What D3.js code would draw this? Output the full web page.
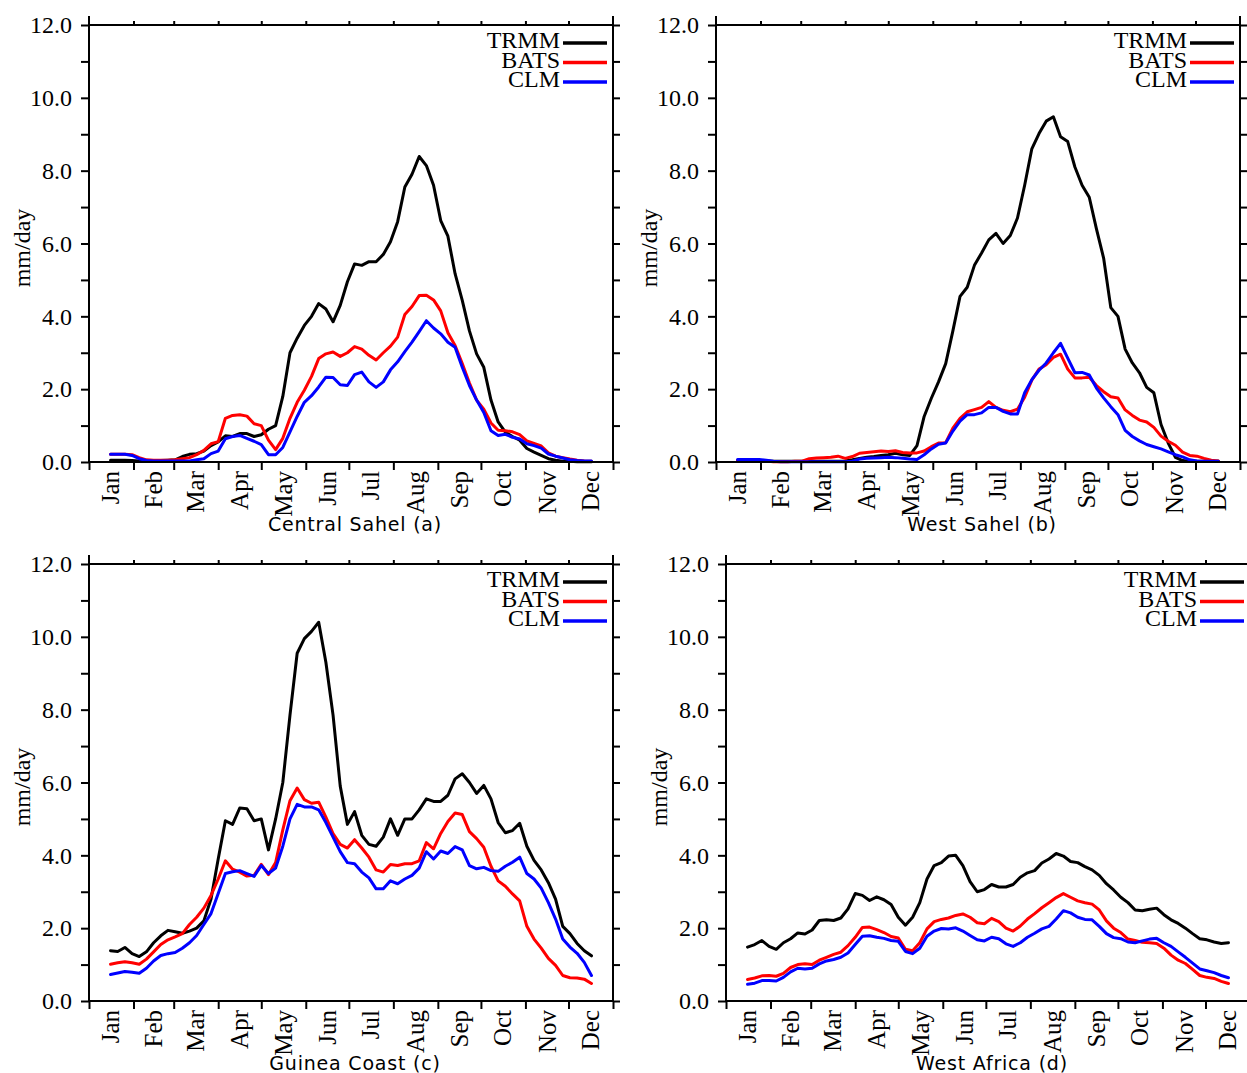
<!DOCTYPE html>
<html>
<head>
<meta charset="utf-8">
<script src="https://cdnjs.cloudflare.com/ajax/libs/d3/7.8.5/d3.min.js"></script>
<style>
  body { margin: 0; background: #ffffff; }
  svg { display: block; }
</style>
</head>
<body>
<div class="chart"></div>
<script>
// Rainfall Annual Cycle - TRMM vs RegCM (BATS / CLM)

// Sample Days (Day of Year) Shared by All Series
var days = [15, 20, 25, 30, 35, 40, 45, 50, 55, 60,
  65, 70, 75, 80, 85, 90, 95, 100, 105, 110,
  115, 120, 125, 130, 135, 140, 145, 150, 155, 160,
  165, 170, 175, 180, 185, 190, 195, 200, 205, 210,
  215, 220, 225, 230, 235, 240, 245, 250, 255, 260,
  265, 270, 275, 280, 285, 290, 295, 300, 305, 310,
  315, 320, 325, 330, 335, 340, 345, 350];

// Month Tick Labels, Month Boundaries & Mid-Month Label Positions
var monthNames = ["Jan", "Feb", "Mar", "Apr", "May", "Jun", "Jul", "Aug", "Sep", "Oct", "Nov", "Dec"];
var monthStarts = [0, 31, 59, 90, 120, 151, 181, 212, 243, 273, 304, 334, 365];
var monthMids = [15, 45, 74, 105, 135, 166, 196, 227, 258, 288, 319, 349];

// Y Axis Ticks (mm/day)
var yTicks = [0, 1, 2, 3, 4, 5, 6, 7, 8, 9, 10, 11, 12];

// Legend Names
var seriesNames = ["TRMM", "BATS", "CLM"];

// Central Sahel (a)
var trmmCentralSahel = [0.05, 0.05, 0.05, 0.04, 0.03, 0.03, 0.03, 0.04, 0.05, 0.06,
  0.15, 0.21, 0.23, 0.30, 0.45, 0.55, 0.72, 0.70, 0.78, 0.78,
  0.70, 0.75, 0.90, 1.00, 1.80, 3.00, 3.40, 3.75, 4.00, 4.35,
  4.20, 3.85, 4.30, 4.95, 5.44, 5.40, 5.50, 5.50, 5.70, 6.05,
  6.60, 7.55, 7.90, 8.39, 8.14, 7.60, 6.63, 6.20, 5.17, 4.44,
  3.60, 2.97, 2.60, 1.70, 1.10, 0.82, 0.70, 0.60, 0.37, 0.27,
  0.18, 0.09, 0.05, 0.02, 0.02, 0.01, 0.01, 0.01];
var batsCentralSahel = [0.21, 0.21, 0.21, 0.20, 0.12, 0.06, 0.05, 0.05, 0.05, 0.06,
  0.09, 0.12, 0.20, 0.32, 0.50, 0.56, 1.20, 1.28, 1.30, 1.26,
  1.05, 1.00, 0.60, 0.34, 0.65, 1.20, 1.64, 1.97, 2.35, 2.84,
  2.97, 3.02, 2.90, 3.00, 3.17, 3.10, 2.93, 2.80, 3.00, 3.18,
  3.43, 4.05, 4.27, 4.57, 4.58, 4.45, 4.15, 3.55, 3.20, 2.70,
  2.17, 1.70, 1.45, 1.07, 0.87, 0.86, 0.83, 0.75, 0.58, 0.51,
  0.44, 0.25, 0.16, 0.12, 0.08, 0.05, 0.03, 0.02];
var clmCentralSahel = [0.21, 0.21, 0.21, 0.18, 0.09, 0.04, 0.03, 0.03, 0.03, 0.03,
  0.03, 0.03, 0.06, 0.09, 0.23, 0.30, 0.64, 0.70, 0.73, 0.65,
  0.57, 0.48, 0.20, 0.20, 0.40, 0.83, 1.25, 1.64, 1.82, 2.06,
  2.33, 2.32, 2.12, 2.10, 2.40, 2.47, 2.20, 2.05, 2.20, 2.53,
  2.75, 3.03, 3.29, 3.58, 3.88, 3.68, 3.52, 3.29, 3.15, 2.60,
  2.10, 1.70, 1.36, 0.86, 0.73, 0.76, 0.68, 0.63, 0.50, 0.45,
  0.38, 0.22, 0.16, 0.11, 0.06, 0.04, 0.03, 0.03];

// West Sahel (b)
var trmmWestSahel = [0.04, 0.04, 0.04, 0.04, 0.03, 0.02, 0.02, 0.02, 0.02, 0.02,
  0.02, 0.02, 0.02, 0.02, 0.02, 0.03, 0.06, 0.10, 0.13, 0.15,
  0.18, 0.20, 0.24, 0.20, 0.18, 0.45, 1.25, 1.75, 2.20, 2.70,
  3.60, 4.55, 4.80, 5.40, 5.74, 6.10, 6.28, 6.00, 6.22, 6.70,
  7.60, 8.60, 9.02, 9.36, 9.48, 8.93, 8.80, 8.10, 7.60, 7.27,
  6.40, 5.60, 4.24, 4.00, 3.10, 2.72, 2.45, 2.05, 1.90, 1.03,
  0.52, 0.13, 0.04, 0.02, 0.02, 0.02, 0.02, 0.02];
var batsWestSahel = [0.04, 0.04, 0.04, 0.04, 0.03, 0.01, 0.01, 0.01, 0.02, 0.02,
  0.09, 0.11, 0.12, 0.13, 0.16, 0.10, 0.15, 0.24, 0.26, 0.28,
  0.30, 0.29, 0.31, 0.26, 0.25, 0.25, 0.30, 0.42, 0.52, 0.53,
  0.93, 1.20, 1.38, 1.44, 1.50, 1.66, 1.50, 1.42, 1.38, 1.45,
  1.78, 2.25, 2.55, 2.67, 2.87, 2.96, 2.55, 2.31, 2.31, 2.33,
  2.10, 1.93, 1.79, 1.76, 1.43, 1.28, 1.15, 1.10, 0.95, 0.71,
  0.57, 0.46, 0.27, 0.18, 0.16, 0.10, 0.05, 0.03];
var clmWestSahel = [0.07, 0.07, 0.07, 0.07, 0.05, 0.02, 0.01, 0.01, 0.01, 0.01,
  0.01, 0.01, 0.01, 0.01, 0.01, 0.01, 0.02, 0.08, 0.10, 0.11,
  0.12, 0.13, 0.12, 0.10, 0.08, 0.07, 0.20, 0.36, 0.49, 0.52,
  0.85, 1.12, 1.30, 1.30, 1.35, 1.50, 1.50, 1.39, 1.32, 1.32,
  1.90, 2.26, 2.52, 2.72, 3.00, 3.26, 2.85, 2.45, 2.46, 2.39,
  2.03, 1.76, 1.52, 1.30, 0.87, 0.70, 0.58, 0.48, 0.42, 0.36,
  0.28, 0.20, 0.14, 0.06, 0.03, 0.02, 0.02, 0.02];

// Guinea Coast (c)
var trmmGuineaCoast = [1.38, 1.36, 1.47, 1.30, 1.22, 1.35, 1.60, 1.79, 1.94, 1.90,
  1.86, 1.92, 2.00, 2.20, 2.80, 3.90, 4.95, 4.85, 5.30, 5.28,
  4.95, 5.00, 4.15, 5.00, 6.00, 7.85, 9.55, 9.95, 10.15, 10.40,
  9.30, 7.85, 5.90, 4.85, 5.20, 4.55, 4.30, 4.25, 4.50, 5.00,
  4.55, 5.00, 5.00, 5.25, 5.55, 5.48, 5.48, 5.65, 6.10, 6.24,
  6.00, 5.70, 5.92, 5.55, 4.90, 4.62, 4.68, 4.88, 4.25, 3.86,
  3.60, 3.25, 2.80, 2.05, 1.85, 1.58, 1.38, 1.24];
var batsGuineaCoast = [1.01, 1.05, 1.08, 1.05, 1.01, 1.15, 1.35, 1.55, 1.68, 1.76,
  1.85, 2.10, 2.30, 2.55, 2.90, 3.35, 3.85, 3.62, 3.54, 3.43,
  3.45, 3.75, 3.47, 3.80, 4.70, 5.50, 5.85, 5.53, 5.43, 5.46,
  5.05, 4.60, 4.30, 4.20, 4.43, 4.20, 3.95, 3.60, 3.54, 3.75,
  3.72, 3.77, 3.77, 3.85, 4.35, 4.18, 4.60, 4.93, 5.16, 5.12,
  4.65, 4.46, 4.22, 3.70, 3.30, 3.15, 2.94, 2.75, 2.05, 1.70,
  1.45, 1.17, 0.98, 0.70, 0.64, 0.63, 0.60, 0.48];
var clmGuineaCoast = [0.73, 0.77, 0.81, 0.79, 0.76, 0.90, 1.10, 1.25, 1.30, 1.33,
  1.45, 1.60, 1.80, 2.10, 2.40, 2.95, 3.50, 3.55, 3.58, 3.50,
  3.42, 3.72, 3.50, 3.65, 4.25, 5.00, 5.40, 5.33, 5.33, 5.25,
  4.90, 4.50, 4.10, 3.80, 3.77, 3.54, 3.38, 3.08, 3.08, 3.30,
  3.22, 3.35, 3.45, 3.65, 4.10, 3.90, 4.12, 4.05, 4.24, 4.15,
  3.72, 3.63, 3.67, 3.58, 3.56, 3.70, 3.81, 3.95, 3.50, 3.35,
  3.10, 2.70, 2.25, 1.70, 1.48, 1.31, 1.06, 0.70];

// West Africa (d)
var trmmWestAfrica = [1.48, 1.55, 1.66, 1.50, 1.42, 1.60, 1.71, 1.87, 1.84, 1.95,
  2.21, 2.23, 2.21, 2.28, 2.53, 2.95, 2.90, 2.76, 2.86, 2.78,
  2.65, 2.30, 2.08, 2.30, 2.70, 3.35, 3.72, 3.80, 3.98, 4.00,
  3.72, 3.28, 3.00, 3.06, 3.20, 3.13, 3.13, 3.20, 3.40, 3.52,
  3.58, 3.79, 3.90, 4.05, 3.98, 3.83, 3.80, 3.69, 3.60, 3.45,
  3.22, 3.05, 2.85, 2.70, 2.50, 2.48, 2.52, 2.55, 2.37, 2.23,
  2.13, 2.00, 1.85, 1.71, 1.68, 1.62, 1.58, 1.60];
var batsWestAfrica = [0.59, 0.63, 0.69, 0.70, 0.68, 0.76, 0.92, 1.00, 1.02, 1.00,
  1.12, 1.20, 1.28, 1.34, 1.52, 1.75, 2.02, 2.03, 1.96, 1.88,
  1.77, 1.73, 1.42, 1.38, 1.60, 1.98, 2.18, 2.24, 2.28, 2.35,
  2.39, 2.30, 2.15, 2.12, 2.27, 2.18, 2.00, 1.92, 2.06, 2.25,
  2.40, 2.56, 2.70, 2.84, 2.95, 2.85, 2.75, 2.70, 2.66, 2.50,
  2.20, 2.00, 1.88, 1.70, 1.66, 1.61, 1.60, 1.58, 1.45, 1.26,
  1.12, 1.03, 0.87, 0.70, 0.65, 0.62, 0.54, 0.48];
var clmWestAfrica = [0.46, 0.49, 0.56, 0.56, 0.55, 0.65, 0.80, 0.90, 0.88, 0.90,
  1.02, 1.10, 1.14, 1.20, 1.32, 1.55, 1.78, 1.79, 1.75, 1.72,
  1.66, 1.64, 1.36, 1.30, 1.45, 1.78, 1.92, 1.99, 1.98, 2.01,
  1.92, 1.80, 1.68, 1.65, 1.75, 1.71, 1.57, 1.50, 1.60, 1.75,
  1.86, 1.98, 2.05, 2.25, 2.48, 2.42, 2.30, 2.24, 2.23, 2.05,
  1.85, 1.74, 1.71, 1.62, 1.60, 1.65, 1.70, 1.72, 1.60, 1.50,
  1.35, 1.20, 1.04, 0.88, 0.83, 0.78, 0.70, 0.64];

// Setup Chart Parameters/Dimensions
var svgWidth = 1247;
var svgHeight = 1073;
var width = 524;
var height = 437;
var colors = ["#000000", "#ff0000", "#0000ff"];
var serif = "'Liberation Serif', 'Times New Roman', serif";

// Panel Positions (Left/Top of Each Plot Frame)
var panels = [
  { left: 89, top: 25, title: "Central Sahel (a)", series: [trmmCentralSahel, batsCentralSahel, clmCentralSahel] },
  { left: 716, top: 25, title: "West Sahel (b)", series: [trmmWestSahel, batsWestSahel, clmWestSahel] },
  { left: 89, top: 564, title: "Guinea Coast (c)", series: [trmmGuineaCoast, batsGuineaCoast, clmGuineaCoast] },
  { left: 726, top: 564, title: "West Africa (d)", series: [trmmWestAfrica, batsWestAfrica, clmWestAfrica] }
];

// Create an SVG Element/Wrapper
var svg = d3.select(".chart")
  .append("svg")
  .attr("width", svgWidth)
  .attr("height", svgHeight)
  .style("background", "#ffffff");

// Scales Shared by All Panels
var xScale = d3.scaleLinear().domain([0, 365]).range([0, width]);
var yScale = d3.scaleLinear().domain([0, 12]).range([height, 0]);

var line = d3.line()
  .x((d, i) => xScale(days[i]))
  .y(d => yScale(d));

// Style Tick Lines of an Axis Group
function styleAxis(axisGroup) {
  axisGroup.select(".domain").remove();
  axisGroup.selectAll(".tick line")
    .attr("stroke", "#000")
    .attr("stroke-width", 2);
  return axisGroup;
}

function drawPanel(p) {
  var chartGroup = svg.append("g")
    .attr("transform", `translate(${p.left}, ${p.top})`);

  // Data Lines (TRMM, BATS, CLM)
  p.series.forEach(function(values, k) {
    chartGroup.append("path")
      .datum(values)
      .attr("d", line)
      .attr("fill", "none")
      .attr("stroke", colors[k])
      .attr("stroke-width", 3)
      .attr("stroke-linejoin", "round")
      .attr("stroke-linecap", "round");
  });

  // Left Axis with Labels
  var leftAxis = d3.axisLeft(yScale)
    .tickValues(yTicks)
    .tickSize(8)
    .tickPadding(9)
    .tickFormat(d => d % 2 === 0 ? d3.format(".1f")(d) : "");
  var yAxis = styleAxis(chartGroup.append("g").call(leftAxis));
  yAxis.selectAll("text")
    .attr("font-family", serif)
    .attr("font-size", "24px")
    .attr("fill", "#000");

  // Right Axis (Ticks Only)
  var rightAxis = d3.axisRight(yScale).tickValues(yTicks).tickSize(7).tickFormat("");
  styleAxis(chartGroup.append("g").attr("transform", `translate(${width}, 0)`).call(rightAxis));

  // Bottom & Top Month Boundary Ticks
  var bottomAxis = d3.axisBottom(xScale).tickValues(monthStarts).tickSize(8).tickFormat("");
  styleAxis(chartGroup.append("g").attr("transform", `translate(0, ${height})`).call(bottomAxis));

  var topAxis = d3.axisTop(xScale).tickValues(monthStarts.slice(1, 12)).tickSize(4).tickFormat("");
  styleAxis(chartGroup.append("g").call(topAxis));

  // Month Labels (Rotated, Mid-Month)
  var monthAxis = d3.axisBottom(xScale)
    .tickValues(monthMids)
    .tickSize(0)
    .tickFormat((d, i) => monthNames[i]);
  var monthGroup = chartGroup.append("g")
    .attr("transform", `translate(0, ${height})`)
    .call(monthAxis);
  monthGroup.select(".domain").remove();
  monthGroup.selectAll("text")
    .attr("transform", "rotate(-90)")
    .attr("x", -9)
    .attr("y", 0)
    .attr("dy", "0.33em")
    .attr("text-anchor", "end")
    .attr("font-family", serif)
    .attr("font-size", "25px")
    .attr("fill", "#000");

  // Frame & Corner Extensions
  chartGroup.append("rect")
    .attr("width", width)
    .attr("height", height)
    .attr("fill", "none")
    .attr("stroke", "#000")
    .attr("stroke-width", 2);
  [0, width].forEach(function(x) {
    chartGroup.append("line")
      .attr("x1", x).attr("x2", x)
      .attr("y1", -9).attr("y2", 0)
      .attr("stroke", "#000")
      .attr("stroke-width", 2);
  });

  // Y Axis Label
  chartGroup.append("text")
    .attr("transform", "rotate(-90)")
    .attr("x", -223)
    .attr("y", -67)
    .attr("dy", "0.33em")
    .attr("text-anchor", "middle")
    .attr("font-family", serif)
    .attr("font-size", "24px")
    .text("mm/day");

  // Panel Title
  chartGroup.append("text")
    .attr("x", width / 2 + 4)
    .attr("y", height + 69)
    .attr("text-anchor", "middle")
    .attr("font-family", "'DejaVu Sans', sans-serif")
    .attr("font-size", "19px")
    .attr("letter-spacing", "0.8px")
    .text(p.title);

  // Legend (Top Right)
  var legendGroup = chartGroup.append("g")
    .attr("transform", `translate(${width - 6}, 18)`);
  seriesNames.forEach(function(name, k) {
    var rowY = k * 19.5;
    legendGroup.append("line")
      .attr("x1", -44).attr("x2", 0)
      .attr("y1", rowY).attr("y2", rowY)
      .attr("stroke", colors[k])
      .attr("stroke-width", 3.5);
    legendGroup.append("text")
      .attr("x", -47)
      .attr("y", rowY + 5)
      .attr("text-anchor", "end")
      .attr("font-family", serif)
      .attr("font-size", "24px")
      .text(name);
  });
}

panels.forEach(drawPanel);
</script>
</body>
</html>
